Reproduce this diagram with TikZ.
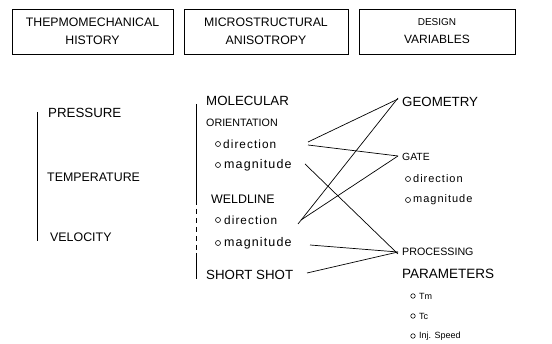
\documentclass[tikz,border=0pt]{standalone}
\usepackage{fontspec}
\setmainfont{Liberation Sans}
\newcommand{\fsz}[1]{\fontsize{#1}{#1}\selectfont}
\newcommand{\lsp}{\addfontfeatures{LetterSpace=9}}
\begin{document}
\begin{tikzpicture}[x=1pt,y=-1pt,
  hdr/.style={draw,line width=0.8pt,minimum width=#1,minimum height=45pt,align=center,font=\fontsize{12.3}{18}\selectfont,inner sep=0pt},
  lbl/.style={anchor=west,inner sep=0pt,font=\fsz{13.3}},
  mid/.style={anchor=west,inner sep=0pt,font=\fsz{12.4}},
  sml/.style={anchor=west,inner sep=0pt,font=\fsz{10.7}},
  low/.style={anchor=west,inner sep=0pt,font=\fsz{12.5}\lsp},
  lowr/.style={anchor=west,inner sep=0pt,font=\fsz{11}\lsp},
  tiny/.style={anchor=west,inner sep=0pt,font=\fsz{9}},
  bul/.style={circle,draw,line width=0.6pt,inner sep=0pt,minimum size=5pt},
  conn/.style={line width=0.7pt},
  bar/.style={line width=0.9pt}]
\useasboundingbox (0,0) rectangle (552,344);
% header boxes
\node[hdr=161pt] (h1) at (92.5,31.5) {THEPMOMECHANICAL\\HISTORY};
\node[hdr=164pt] (h2) at (266,31.5) {MICROSTRUCTURAL\\ANISOTROPY};
\node[hdr=156pt,font=\fontsize{10}{18}\selectfont] (h3) at (437,31.5) {DESIGN\\{\fontsize{12}{13}\selectfont VARIABLES}};
% left column
\coordinate (l1) at (37,112);
\coordinate (l2) at (37,241);
\draw[bar] (l1) -- (l2);
\node[lbl] (pres) at (48,113) {PRESSURE};
\node[mid] (temp) at (47,177) {TEMPERATURE};
\node[mid] (velo) at (50,237) {VELOCITY};
% middle column
\coordinate (m1) at (196,104);
\coordinate (m2) at (196,200);
\coordinate (m3) at (196,253);
\coordinate (m4) at (196,279);
\draw[bar] (m1) -- (m2);
\draw[bar,dash pattern=on 5pt off 4pt] (m2) -- (m3);
\draw[bar] (m3) -- (m4);
\node[lbl] (mol) at (206,101) {MOLECULAR};
\node[sml] (ori) at (206,123) {ORIENTATION};
\node[bul] (b1) at (218,144) {};
\node[low,font=\fsz{11.8}\lsp] (mdir) at (223,144) {direction};
\node[bul] (b2) at (218,165) {};
\node[low] (mmag) at (224,165) {magnitude};
\node[mid] (weld) at (211,199) {WELDLINE};
\node[bul] (b3) at (218,220) {};
\node[low,font=\fsz{11.8}\lsp] (wdir) at (224,220) {direction};
\node[bul] (b4) at (218,243) {};
\node[low] (wmag) at (224,243) {magnitude};
\node[lbl] (short) at (206,275) {SHORT SHOT};
% right column
\node[lbl] (geo) at (402,102) {GEOMETRY};
\node[sml,font=\fsz{10.4}] (gate) at (402,157) {GATE};
\node[bul] (b5) at (408,179) {};
\node[lowr] (gdir) at (413,179) {direction};
\node[bul] (b6) at (408,200) {};
\node[lowr] (gmag) at (413,200) {magnitude};
\node[sml] (proc) at (402,252) {PROCESSING};
\node[lbl,font=\fsz{13.5}] (param) at (402,274) {PARAMETERS};
\node[bul,minimum size=4.5pt] (b7) at (413,296) {};
\node[tiny] (tm) at (419,296) {Tm};
\node[bul,minimum size=4.5pt] (b8) at (413,316) {};
\node[tiny] (tc) at (419,316) {Tc};
\node[bul,minimum size=4.5pt] (b9) at (413,336) {};
\node[tiny] (inj) at (419,336) {Inj. Speed};
% connector start points (free ends beside the labels)
\coordinate (s1) at (308,142);
\coordinate (s2) at (308,145);
\coordinate (s3) at (305,164);
\coordinate (s4) at (298,224);
\coordinate (s5) at (301,220);
\coordinate (s6) at (310,245);
\coordinate (s7) at (307,273);
% connectors
\draw[conn] (s1) -- ([xshift=-4pt,yshift=3pt]geo.west);
\draw[conn] (s2) -- ([xshift=-4pt,yshift=1pt]gate.west);
\draw[conn] (s3) -- ([xshift=-4pt,yshift=-2pt]proc.west);
\draw[conn] (s4) -- ([xshift=-4pt,yshift=4pt]geo.west);
\draw[conn] (s5) -- ([xshift=-4pt,yshift=1pt]gate.west);
\draw[conn] (s6) -- ([xshift=-4pt]proc.west);
\draw[conn] (s7) -- ([xshift=-4pt]proc.west);
\end{tikzpicture}
\end{document}
